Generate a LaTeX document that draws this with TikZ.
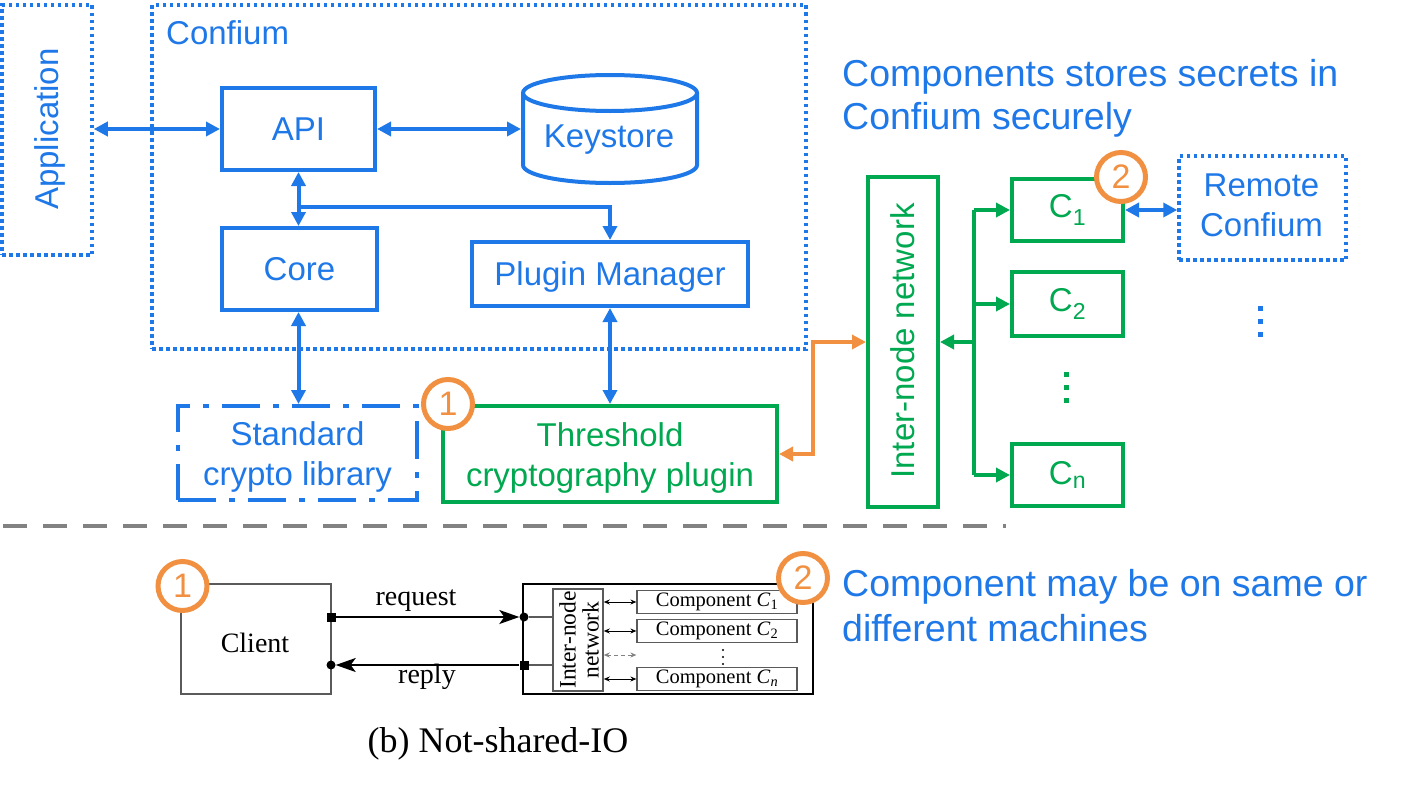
\documentclass[tikz,border=0pt]{standalone}
\usepackage{fontspec}
\setmainfont{Liberation Sans}
\newfontfamily\serifff{Liberation Serif}
\usetikzlibrary{arrows.meta}
\definecolor{cblue}{RGB}{30,120,232}
\definecolor{cgreen}{RGB}{0,168,80}
\definecolor{corange}{RGB}{240,144,64}
\definecolor{cgray}{RGB}{130,130,130}
\definecolor{bgray}{RGB}{90,90,90}
\begin{document}
\begin{tikzpicture}[x=1pt,y=-1pt,
  >={Triangle[length=14pt,width=14pt]},
  bfont/.style={font=\fontsize{33}{40}\selectfont},
  hfont/.style={font=\fontsize{37.5}{43}\selectfont},
  bluebox/.style={draw=cblue, line width=4pt, text=cblue, bfont, inner sep=0pt, align=center},
  dotbox/.style={draw=cblue, line width=3.5pt, dash pattern=on 3.5pt off 3.5pt, inner sep=0pt, text=cblue, bfont, align=center},
  dashdotbox/.style={draw=cblue, line width=4pt, dash pattern=on 38pt off 13pt on 6pt off 13pt, inner sep=0pt, text=cblue, bfont, align=center},
  greenbox/.style={draw=cgreen, line width=4pt, text=cgreen, bfont, inner sep=0pt, align=center},
  btext/.style={text=cblue, bfont, align=center, inner sep=0pt},
  gtext/.style={text=cgreen, bfont, align=center, inner sep=0pt},
  bline/.style={draw=cblue, line width=4pt},
  gline/.style={draw=cgreen, line width=4pt},
  oline/.style={draw=corange, line width=4pt},
  ocirc/.style={circle, draw=corange, line width=5pt, fill=white, text=corange, minimum size=49pt, inner sep=0pt, font=\fontsize{34}{40}\selectfont},
  sfont/.style={font=\serifff\fontsize{28}{32}\selectfont},
  cfont/.style={font=\serifff\fontsize{20.5}{22}\selectfont},
  sbox/.style={draw=bgray, line width=1.5pt, inner sep=0pt},
  cbox/.style={draw=bgray, line width=1.2pt, inner sep=0pt, cfont, minimum width=160pt, minimum height=23pt},
  smallarr/.style={line width=1pt, {Stealth[length=6pt,width=5pt]}-{Stealth[length=6pt,width=5pt]}},
  bigarr/.style={line width=2pt, -{Stealth[length=20pt,width=14pt,inset=5pt]}},
]
\useasboundingbox (0,0) rectangle (1404,787);

% ---------- top part ----------
\node[dotbox, minimum width=90pt, minimum height=250pt] (app) at (47,130) {};
\node[rotate=90, btext] (apptxt) at (50,129) {Application};

\node[dotbox, minimum width=654pt, minimum height=344pt] (confium) at (479,177) {};
\node[anchor=base west, btext] (conftxt) at (166,44) {Confium};

\node[bluebox, minimum width=153pt, minimum height=82pt] (api) at (298.5,129) {API};
\node[bluebox, minimum width=155pt, minimum height=82pt] (core) at (299.5,269) {Core};
\node[bluebox, minimum width=276pt, minimum height=64pt, text depth=0pt] (pm) at (610,274) {Plugin Manager};

% keystore cylinder
\draw[bline] (610,93) ellipse [x radius=87, y radius=18];
\draw[bline] (523,93) -- (523,165) .. controls (523,175) and (562,183) .. (610,183)
  .. controls (658,183) and (697,175) .. (697,165) -- (697,93);
\node[minimum width=174pt, minimum height=90pt, outer sep=2pt, inner sep=0pt] (ks) at (610,129) {};
\node[btext] (kstxt) at (609,140) {Keystore};

\node[dashdotbox, minimum width=239pt, minimum height=94pt] (std) at (297.5,453) {};
\node[btext] (stdtxt) at (297.5,457) {Standard\\crypto library};
\node[greenbox, minimum width=334pt, minimum height=96pt] (thr) at (610,454) {};
\node[gtext] (thrtxt) at (610,458) {Threshold\\cryptography plugin};

\node[greenbox, minimum width=70pt, minimum height=330pt] (inn) at (903,342) {};
\node[rotate=90, gtext] (inntxt) at (903,341) {Inter-node network};

\node[greenbox, minimum width=111pt, minimum height=62pt] (c1) at (1067.5,210) {C\textsubscript{1}};
\node[greenbox, minimum width=111pt, minimum height=64pt] (c2) at (1067.5,304) {C\textsubscript{2}};
\node[greenbox, minimum width=111pt, minimum height=62pt] (cn) at (1067.5,475) {C\textsubscript{n}};

\node[dotbox, minimum width=167pt, minimum height=104pt] (remote) at (1262.5,208) {};
\node[btext] (remtxt) at (1261.5,205.5) {Remote\\Confium};

% blue connectors
\draw[bline, <->] (app.east |- api.west) -- (api.west);
\draw[bline, <->] (api.east) -- (api.east -| ks.west);
\draw[bline, <->] (api.south) -- (api.south |- core.north);
\coordinate (br) at (298.5,207);
\draw[bline, ->] (br) -| (pm.north);
\draw[bline, <->] (core.south -| api.south) -- (api.south |- std.north);
\draw[bline, <->] (pm.south) -- (pm.south |- thr.north);
\draw[bline, <->] (c1.east) -- (c1.east -| remote.west);

% orange connector
\draw[oline, <->] (thr.east) -- ++(34,0) |- (inn.west);

% green connectors
\coordinate (trunk) at (974,342);
\draw[gline] (trunk |- c1.west) -- (trunk |- cn.west);
\draw[gline, ->] (trunk) -- (inn.east);
\draw[gline, ->] (trunk |- c1.west) -- (c1.west);
\draw[gline, ->] (trunk |- c2.west) -- (c2.west);
\draw[gline, ->] (trunk |- cn.west) -- (cn.west);

% dots
\foreach \yy in {374,387,400} \fill[cgreen] (1064,\yy-2.5) rectangle (1068.5,\yy+2.5);
\foreach \yy in {308,321,334} \fill[cblue] (1258,\yy-2.5) rectangle (1262.5,\yy+2.5);

% headers
\node[anchor=base west, text=cblue, hfont, inner sep=0pt] (h1) at (842,86) {Components stores secrets in};
\node[anchor=base west, text=cblue, hfont, inner sep=0pt] (h2) at (842,129) {Confium securely};
\node[anchor=base west, text=cblue, hfont, inner sep=0pt] (h3) at (842,596) {Component may be on same or};
\node[anchor=base west, text=cblue, hfont, inner sep=0pt] (h4) at (842,641) {different machines};

% separator
\draw[cgray, line width=4pt, dash pattern=on 24pt off 16pt] (3,526) -- (1006,526);

% circles top
\node[ocirc] (o1) at (448,404) {1};
\node[ocirc] (o2) at (1121,177) {2};

% ---------- bottom part ----------
\node[sbox, minimum width=150pt, minimum height=110pt] (client) at (256,639) {};
\node[anchor=base, sfont, inner sep=0pt] (clienttxt) at (255,652) {Client};
\node[sbox, draw=black, minimum width=290pt, minimum height=110pt] (rb) at (668,639) {};
\node[sbox, minimum width=50pt, minimum height=102pt] (net) at (578,640) {};
\node[rotate=90, align=center, inner sep=0pt, font=\serifff\fontsize{23.5}{23}\selectfont] (nettxt) at (579,640) {Inter-node\\network};

\node[cbox] (bc1) at (717,602) {Component \textit{C}\textsubscript{1}};
\node[cbox] (bc2) at (717,631) {Component \textit{C}\textsubscript{2}};
\node[cbox] (bcn) at (717,679) {Component \textit{C}\textsubscript{\textit{n}}};

\node[fill=black, minimum size=9pt, inner sep=0pt] (sqa) at (331,617) {};
\node[fill=black, circle, minimum size=9pt, inner sep=0pt] (dotb) at (524,617) {};
\node[fill=black, minimum size=9pt, inner sep=0pt] (sqc) at (524,665) {};
\node[fill=black, circle, minimum size=9pt, inner sep=0pt] (dotd) at (331,665) {};

\draw[bigarr] (sqa) -- (dotb);
\draw[bigarr] (sqc) -- (dotd);
\draw[bgray, line width=1.2pt] (dotb) -- (dotb -| net.west);
\draw[bgray, line width=1.2pt] (sqc) -- (sqc -| net.west);

\node[anchor=base, sfont, inner sep=0pt] (reqtxt) at (416,605) {request};
\node[anchor=base, sfont, inner sep=0pt] (reptxt) at (427,683) {reply};

\draw[smallarr] (net.east |- bc1.west) -- (bc1.west);
\draw[smallarr] (net.east |- bc2.west) -- (bc2.west);
\draw[smallarr] (net.east |- bcn.west) -- (bcn.west);
\coordinate (bdots) at (723,655);
\draw[smallarr, cgray, dash pattern=on 4pt off 3pt] (net.east |- bdots) -- (bc1.west |- bdots);
\foreach \yy in {650,657,664} \fill[black] (723,\yy) circle (1.1);

\node[ocirc] (o1b) at (182.5,586) {1};
\node[ocirc] (o2b) at (803,578) {2};

\node[anchor=base, font=\serifff\fontsize{36}{40}\selectfont, inner sep=0pt] (caption) at (498,752) {(b) Not-shared-IO};
\end{tikzpicture}
\end{document}
